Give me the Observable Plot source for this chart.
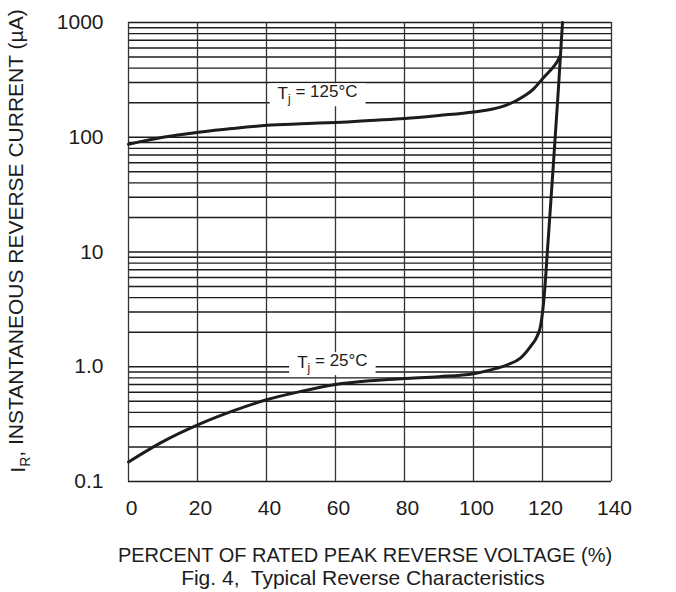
<!DOCTYPE html>
<html>
<head>
<meta charset="utf-8">
<script src="https://cdn.jsdelivr.net/npm/d3@7"></script>
<script src="https://cdn.jsdelivr.net/npm/@observablehq/plot@0.6"></script>
<style>
  html, body { margin: 0; padding: 0; background: #fff; }
  #chart svg { display: block; }
</style>
</head>
<body>
<div id="chart"></div>
<script>
// ---- data ----
const xTicks = [0, 20, 40, 60, 80, 100, 120, 140];
const yTicks = [0.1, 1, 10, 100, 1000];
const yTickLabels = ["0.1", "1.0", "10", "100", "1000"];
const yGrid = [
  0.1, 0.2, 0.3, 0.4, 0.5, 0.6, 0.7, 0.8, 0.9,
  1, 2, 3, 4, 5, 6, 7, 8, 9,
  10, 20, 30, 40, 50, 60, 70, 80, 90,
  100, 200, 300, 400, 500, 600, 700, 800, 900,
  1000
];

// Tj = 25°C curve
const t25X = [0, 9.3, 20.9, 30.5, 40, 50, 60, 70, 80, 90, 100, 105, 109.8, 113.6, 116.5, 118.4, 119.4, 120.1, 120.4, 121.5, 123, 124.5, 125.8];
const t25Y = [0.148, 0.217, 0.319, 0.414, 0.516, 0.61, 0.70, 0.755, 0.79, 0.82, 0.87, 0.94, 1.04, 1.19, 1.5, 1.83, 2.24, 3.13, 3.83, 11, 50, 235, 1000];

// Tj = 125°C curve
const t125X = [0, 10, 20.9, 30, 40.2, 50, 63.4, 70, 80.1, 90, 100, 107.8, 112.6, 117.5, 120.4, 122.3, 124.2, 125.2];
const t125Y = [87, 100, 111, 119, 127, 131, 136, 140, 146, 155, 166, 183, 210, 265, 334, 383, 452, 516];

const curveLabels = ["Tj = 125°C", "Tj = 25°C"];
const curveLabelX = [54.8, 59.1];
const curveLabelY = [240, 1.09];

const yTitle = "IR, INSTANTANEOUS REVERSE CURRENT (µA)";
const xTitle = "PERCENT OF RATED PEAK REVERSE VOLTAGE (%)";
const caption = "Fig. 4,  Typical Reverse Characteristics";

// ---- build tables ----
const d25 = t25X.map((x, i) => ({x, y: t25Y[i]}));
const d125 = t125X.map((x, i) => ({x, y: t125Y[i]}));
const labels = curveLabels.map((text, i) => ({text, x: curveLabelX[i], y: curveLabelY[i]}));

const font = "'Liberation Sans', Arial, Helvetica, sans-serif";
const ink = "#1c1c1c";

const chart = Plot.plot({
  width: 676,
  height: 592,
  marginLeft: 128,
  marginRight: 65,
  marginTop: 22,
  marginBottom: 111,
  style: {fontFamily: font, fontSize: "21px", color: ink, background: "#fff"},
  x: {domain: [0, 140], label: null},
  y: {type: "log", domain: [0.1, 1000], label: null},
  marks: [
    Plot.ruleY(yGrid, {stroke: ink, strokeWidth: 1.4}),
    Plot.ruleX(xTicks, {stroke: "#333", strokeWidth: 1.3}),
    Plot.axisX({ticks: xTicks, tickSize: 0, tickPadding: 19, fontSize: 21, dx: 3, label: null}),
    Plot.axisY({ticks: yTicks, tickSize: 0, tickPadding: 25, fontSize: 21, label: null,
      tickFormat: d => yTickLabels[yTicks.indexOf(d)]}),
    Plot.line(d125, {x: "x", y: "y", curve: "monotone-x", stroke: ink, strokeWidth: 3}),
    Plot.line(d25, {x: "x", y: "y", curve: "monotone-x", stroke: ink, strokeWidth: 3}),
    Plot.text(labels, {x: "x", y: "y", text: "text", fontSize: 17, fill: ink}),
    Plot.text([yTitle], {frameAnchor: "left", textAnchor: "middle", lineAnchor: "middle", rotate: -90,
      dx: -110, dy: -11, fontSize: 21, fill: ink}),
    Plot.text([xTitle], {frameAnchor: "bottom", textAnchor: "middle", lineAnchor: "middle",
      dy: 74, dx: -5, fontSize: 20, fill: ink}),
    Plot.text([caption], {frameAnchor: "bottom", textAnchor: "middle", lineAnchor: "middle",
      dy: 97, dx: -7, fontSize: 21, fill: ink})
  ]
});

document.getElementById("chart").append(chart);

// ---- rich text: subscripts and label backgrounds ----
const svg = d3.select(chart);
function subscriptify(node, head, sub, tail, subSize) {
  const t = d3.select(node);
  t.text(null);
  t.append("tspan").text(head);
  t.append("tspan").attr("dy", "0.35em").attr("font-size", subSize).text(sub);
  t.append("tspan").attr("dy", "-0.35em").text(tail);
}
svg.selectAll("text").each(function() {
  const s = this.textContent;
  if (s.startsWith("Tj = ")) {
    subscriptify(this, "T", "j", s.slice(2), "12px");
    const bb = this.getBBox();
    const pad = 8;
    d3.select(this.parentNode).insert("rect", () => this)
      .attr("x", bb.x - pad).attr("y", bb.y + 1)
      .attr("width", bb.width + 2 * pad).attr("height", bb.height - 1)
      .attr("fill", "#fff")
      .attr("transform", this.getAttribute("transform"));
  } else if (s === yTitle) {
    subscriptify(this, "I", "R", s.slice(2), "14px");
  }
});
</script>
</body>
</html>
